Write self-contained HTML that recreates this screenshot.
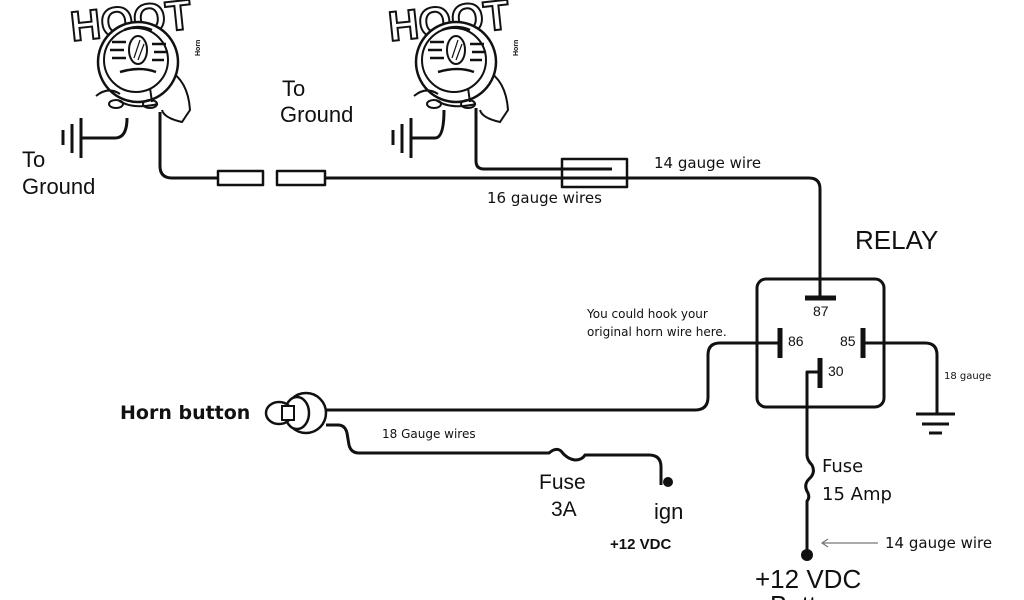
<!DOCTYPE html>
<html><head><meta charset="utf-8"><style>
html,body{margin:0;padding:0;background:#fff;width:1024px;height:600px;overflow:hidden}
svg{display:block}
text{font-family:"Liberation Sans",sans-serif;fill:#111}
.v{font-family:"DejaVu Sans","Liberation Sans",sans-serif}
</style></head><body>
<svg width="1024" height="600" viewBox="0 0 1024 600" xmlns="http://www.w3.org/2000/svg">
<defs>
<g id="horn">
  <g fill="none" stroke="#111" stroke-width="2">
    <text x="70" y="36" font-size="42" font-weight="bold" style="fill:#fff;stroke:#111;stroke-width:2" font-family="Liberation Serif,serif" transform="rotate(-6 120 20)">HOOT</text>
    <path d="M168 70 q20 10 22 40 l-8 12 q-18 -4 -20 -12" fill="#fff"/>
    <circle cx="138" cy="62" r="40" fill="#fff" stroke-width="2.5"/>
    <circle cx="136" cy="60" r="32"/>
    <ellipse cx="138" cy="50" rx="9" ry="14" stroke-width="2"/>
    <path d="M140 40 l-6 18 M144 44 l-6 16" stroke-width="1.2"/>
    <path d="M112 42 h14 M110 50 h14 M112 58 h14 M152 44 h14 M154 52 h14 M152 60 h12 M120 72 q20 -6 36 0 M124 30 q14 -6 28 0" stroke-width="2.5"/>
    <path d="M96 96 q12 -10 24 -2 M150 88 l2 14 M118 100 q14 10 40 4" stroke-width="2"/>
    <ellipse cx="116" cy="104" rx="7" ry="4"/>
    <ellipse cx="150" cy="104" rx="7" ry="4"/>
  </g>
  <text x="0" y="0" font-size="7" font-weight="bold" transform="translate(200 56) rotate(-90)">Horn</text>
</g>
</defs>

<use href="#horn"/>
<use href="#horn" transform="translate(318 0)"/>

<g fill="none" stroke="#111" stroke-width="3" stroke-linejoin="round">
  <path d="M63 130v15M72 124v29M81 118v40M81 138h34q12 0 12 -20"/>
  <path d="M393 130v15M402 124v29M411 118v40M411 138h24q9 0 9 -28"/>
  <path d="M160 112v54q0 12 12 12h46"/>
  <rect x="218" y="171" width="45" height="14" stroke-width="2.5"/>
  <rect x="277" y="171" width="48" height="14" stroke-width="2.5"/>
  <path d="M325 178h484q11 0 11 11v109"/>
  <path d="M476 108v53q0 8 8 8h128"/>
  <rect x="562" y="159" width="65" height="28" stroke-width="2.5"/>
  <rect x="757" y="279" width="127" height="128" rx="9"/>
  <path d="M805 298h31" stroke-width="5"/>
  <path d="M780 328v30M863 328v30M820 358v30" stroke-width="5"/>
  <path d="M780 343h-60q-12 0 -12 12v42q0 13 -13 13h-369"/>
  <path d="M863 343h62q12 0 12 12v58"/>
  <path d="M916 414h39M922 424h27M929 433h13"/>
  <path d="M820 372h-13v83q0 5 5 10q4 8 -3 14q-6 6 -1 14q2 5 -1 8v54"/>
  <path d="M326 425h12q7 0 9 8l2 12q2 8 10 8h190q7 -6 12 -2q6 8 14 9q7 0 10 -5h64q12 0 12 12v18"/>
</g>
<circle cx="668" cy="482" r="5" fill="#111"/>
<circle cx="807" cy="555" r="6" fill="#111"/>

<g fill="#fff" stroke="#111" stroke-width="2.5">
  <ellipse cx="306" cy="413" rx="20" ry="20"/>
  <ellipse cx="297" cy="413" rx="12" ry="16"/>
  <ellipse cx="279" cy="413" rx="13" ry="11"/>
  <rect x="282" y="406" width="12" height="14" stroke-width="2"/>
</g>

<g stroke="#777" stroke-width="1.2" fill="none">
  <path d="M878 543h-56M828 539l-6 4l6 4"/>
</g>

<text x="22" y="167" font-size="22">To</text>
<text x="22" y="194" font-size="22">Ground</text>
<text x="282" y="96" font-size="22">To</text>
<text x="280" y="122" font-size="22">Ground</text>
<text class="v" x="654" y="168" font-size="15">14 gauge wire</text>
<text class="v" x="487" y="203" font-size="15">16 gauge wires</text>
<text x="855" y="249" font-size="26">RELAY</text>
<text x="813" y="316" font-size="14">87</text>
<text x="788" y="346" font-size="14">86</text>
<text x="840" y="346" font-size="14">85</text>
<text x="828" y="376" font-size="14">30</text>
<text class="v" x="587" y="318" font-size="12">You could hook your</text>
<text class="v" x="587" y="336" font-size="12">original horn wire here.</text>
<text class="v" x="944" y="379" font-size="10">18 gauge</text>
<text class="v" x="120" y="419" font-size="19" style="font-weight:600">Horn button</text>
<text class="v" x="382" y="438" font-size="12">18 Gauge wires</text>
<text x="539" y="489" font-size="21">Fuse</text>
<text x="551" y="516" font-size="21">3A</text>
<text x="654" y="519" font-size="22">ign</text>
<text x="610" y="549" font-size="15" font-weight="bold">+12 VDC</text>
<text class="v" x="822" y="472" font-size="18">Fuse</text>
<text class="v" x="822" y="500" font-size="18">15 Amp</text>
<text class="v" x="885" y="548" font-size="15">14 gauge wire</text>
<text x="755" y="588" font-size="26">+12 VDC</text>
<text x="770" y="614" font-size="26">Battery</text>
</svg>
</body></html>
